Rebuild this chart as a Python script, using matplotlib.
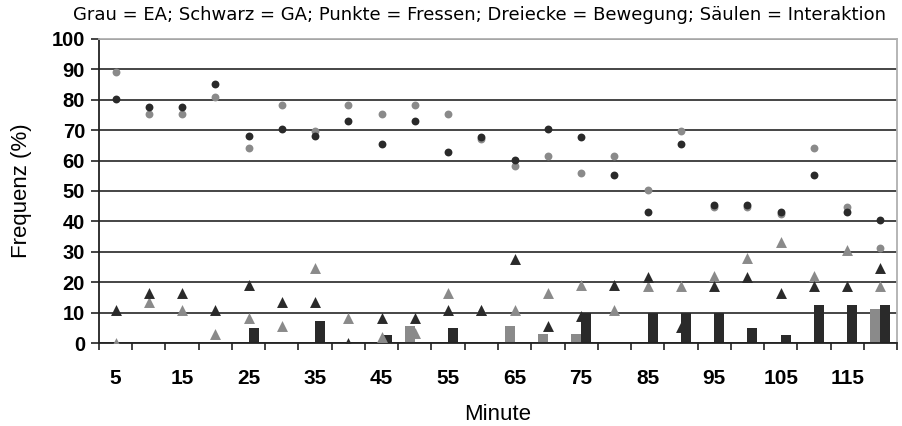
import numpy as np
import matplotlib
matplotlib.use("Agg")
from matplotlib import pyplot as plt

#data
minutes = list(range(5, 125, 5))
fressen_ea = [89.2, 75.3, 75.3, 81.0, 64.2, 78.2, 69.8, 78.2, 75.3, 78.2, 75.3, 67.0,
              58.3, 61.5, 56.0, 61.5, 50.4, 69.7, 44.6, 44.8, 42.3, 64.2, 44.8, 31.1]
fressen_ga = [80.3, 77.7, 77.7, 85.2, 68.1, 70.4, 68.0, 73.0, 65.5, 73.0, 62.7, 67.9,
              60.2, 70.4, 67.9, 55.3, 43.0, 65.5, 45.4, 45.4, 43.0, 55.3, 43.0, 40.5]
bewegung_ea = [0.0, 13.6, 11.0, 2.9, 8.1, 5.6, 24.8, 8.1, 2.0, 3.2, 16.5, 10.9,
               10.9, 16.5, 19.0, 10.9, 18.8, 18.8, 22.0, 27.8, 33.1, 22.0, 30.6, 18.8]
bewegung_ga = [10.9, 16.5, 16.5, 10.9, 19.0, 13.6, 13.6, 0.0, 8.1, 8.1, 10.9, 10.9,
               27.6, 5.6, 9.0, 19.0, 21.8, 5.4, 18.8, 21.8, 16.5, 18.8, 18.8, 24.6]
interaktion_ea = [0, 0, 0, 0, 0, 0, 0, 0, 0, 5.7, 0, 0,
                  5.7, 2.9, 2.9, 0, 0, 0, 0, 0, 0, 0, 0, 11.1]
interaktion_ga = [0, 0, 0, 0, 5.0, 0, 7.3, 0, 2.6, 0, 5.0, 0,
                  0, 0, 9.8, 0, 9.8, 9.8, 9.8, 5.0, 2.6, 12.4, 12.4, 12.4]

grau = '#8a8a8a'
schwarz = '#2a2a2a'
fam = 'Liberation Sans'

fig = plt.figure(figsize=(9.03, 4.26), dpi=100)
ax = fig.add_axes([0.1096, 0.1948, 0.8838, 0.7137])

x = np.arange(len(minutes))
ax.set_axisbelow(True)
ax.yaxis.grid(True, color='#454545', linewidth=1.4)

#bars (interaction)
ax.bar(x - 0.15, interaktion_ea, width=0.3, color=grau, zorder=2)
ax.bar(x + 0.15, interaktion_ga, width=0.3, color=schwarz, zorder=2)

#triangles (movement), circles (feeding)
ax.scatter(x, bewegung_ea, marker='^', s=62, color=grau, zorder=3, linewidths=0)
ax.scatter(x, bewegung_ga, marker='^', s=62, color=schwarz, zorder=3, linewidths=0)
ax.scatter(x, fressen_ea, marker='o', s=32, color=grau, zorder=3, linewidths=0)
ax.scatter(x, fressen_ga, marker='o', s=32, color=schwarz, zorder=3, linewidths=0)

ax.set_xlim(-0.5, len(minutes) - 0.5)
ax.set_ylim(0, 100)
ax.set_yticks(range(0, 101, 10))
ax.set_yticklabels([str(v) for v in range(0, 101, 10)], fontsize=14.5, fontweight='bold',
                   family=fam)

#category boundary ticks, labels every other category
ax.set_xticks(np.arange(-0.5, len(minutes)), minor=False)
ax.set_xticklabels([])
ax.set_xticks(x[::2], minor=True)
ax.set_xticklabels([str(m) for m in minutes[::2]], minor=True, fontsize=15,
                   fontweight='bold', family=fam)
ax.tick_params(axis='x', which='major', direction='out', length=5, width=1.2, color='#222222')
ax.tick_params(axis='x', which='minor', length=0, pad=19)
ax.tick_params(axis='y', direction='out', length=6, width=1.2, color='#222222', pad=4)

for s in ['left', 'bottom']:
    ax.spines[s].set_color('#222222')
    ax.spines[s].set_linewidth(1.3)
for s in ['top', 'right']:
    ax.spines[s].set_color('#b0b0b0')
    ax.spines[s].set_linewidth(1.3)

ax.set_ylabel('Frequenz (%)', fontsize=16, family=fam, labelpad=14)
ax.set_xlabel('Minute', fontsize=16, family=fam, labelpad=11)

fig.text(0.531, 0.964, 'Grau = EA; Schwarz = GA; Punkte = Fressen; Dreiecke = Bewegung; S\u00e4ulen = Interaktion',
         ha='center', va='center', fontsize=13, family='DejaVu Sans')

fig.savefig('out.png', dpi=100)
